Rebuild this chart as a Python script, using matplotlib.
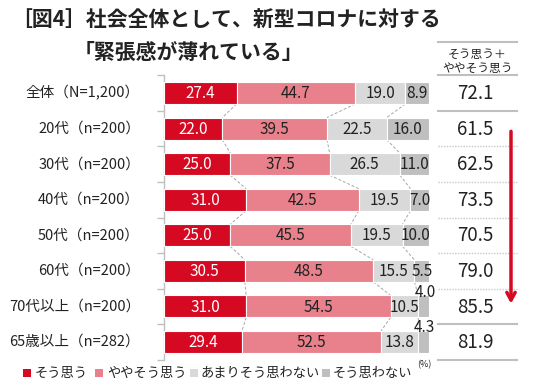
import matplotlib
matplotlib.use("Agg")
import matplotlib.pyplot as plt
import matplotlib.transforms as mtrans
import numpy as np

plt.rcParams['font.family'] = ['Noto Sans CJK JP', 'DejaVu Sans']

categories = ["全体（N=1,200）", "20代（n=200）", "30代（n=200）", "40代（n=200）",
              "50代（n=200）", "60代（n=200）", "70代以上（n=200）", "65歳以上（n=282）"]
sou_omou = [27.4, 22.0, 25.0, 31.0, 25.0, 30.5, 31.0, 29.4]
yaya_sou = [44.7, 39.5, 37.5, 42.5, 45.5, 48.5, 54.5, 52.5]
amari = [19.0, 22.5, 26.5, 19.5, 19.5, 15.5, 10.5, 13.8]
sou_omowanai = [8.9, 16.0, 11.0, 7.0, 10.0, 5.5, 4.0, 4.3]
total_agree = ["72.1", "61.5", "62.5", "73.5", "70.5", "79.0", "85.5", "81.9"]
series_names = ["そう思う", "ややそう思う", "あまりそう思わない", "そう思わない"]
colors = ["#D50A22", "#E9818C", "#D9D9D9", "#BFBFBF"]
title1 = "［図4］社会全体として、新型コロナに対する"
title2 = "「緊張感が薄れている」"
table_header = "そう思う＋\nややそう思う"

W, H = 540, 387
fig = plt.figure(figsize=(W / 100, H / 100), dpi=100)

# overlay axes in pixel coordinates
ov = fig.add_axes([0, 0, 1, 1])
ov.set_xlim(0, W)
ov.set_ylim(H, 0)
ov.axis('off')

# bar axes
top_px, bot_px = 75.2, 359.8
left_px, right_px = 164, 429
ax = fig.add_axes([left_px / W, 1 - bot_px / H, (right_px - left_px) / W, (bot_px - top_px) / H])
n = len(categories)
ax.set_xlim(0, 100)
ax.set_ylim(n - 0.5, -0.5)
ax.set_zorder(2)
ax.patch.set_alpha(0)

data = np.array([sou_omou, yaya_sou, amari, sou_omowanai])
y = np.arange(n)
bh = 0.62
left = np.zeros(n)
for k in range(4):
    ax.barh(y, data[k], left=left, height=bh, color=colors[k], edgecolor='white', linewidth=0.8, zorder=3)
    for i in range(n):
        v = data[k][i]
        cx = left[i] + v / 2
        tc = 'white' if k == 0 else '#222222'
        if v < 5:
            ax.text(cx + 0.5, i - bh / 2 - 0.09, f"{v:.1f}", ha='center', va='center',
                    fontsize=11, color=tc, zorder=5)
        else:
            ax.text(cx, i + 0.02, f"{v:.1f}", ha='center', va='center',
                    fontsize=11, color=tc, zorder=5)
    left = left + data[k]

# dashed connectors
cum = np.cumsum(data, axis=0)
for i in range(n - 1):
    for k in range(4):
        ax.plot([cum[k][i], cum[k][i + 1]], [i + bh / 2, i + 1 - bh / 2],
                color='#A6A6A6', lw=0.7, ls=(0, (3, 2)), zorder=2)

# axis styling
for s in ['top', 'right', 'bottom']:
    ax.spines[s].set_visible(False)
ax.spines['left'].set_color('#BFBFBF')
ax.spines['left'].set_linewidth(1.0)
ax.set_xticks([])
ax.set_yticks(np.arange(-0.5, n, 1.0))
ax.set_yticklabels([])
ax.tick_params(axis='y', length=5, color='#BFBFBF', width=1.0, direction='out')

# category labels
blend_y = mtrans.blended_transform_factory(ov.transData, ax.transData)
for i, c in enumerate(categories):
    ov.text(140, i, c, transform=blend_y, ha='right', va='center', fontsize=10.5, color='#222222')

# titles
ov.text(11, 20, title1, ha='left', va='center', fontsize=15, fontweight='bold', color='#222222')
ov.text(74, 52, title2, ha='left', va='center', fontsize=15, fontweight='bold', color='#222222')

# table
tx0, tx1 = 438, 517
ov.plot([tx0, tx1], [42, 42], color='#BFBFBF', lw=1.5)
ov.text((tx0 + tx1) / 2, 61, table_header, ha='center', va='center', fontsize=8.5,
        color='#222222', linespacing=1.1)
ov.plot([tx0, tx1], [-0.5, -0.5], color='#BFBFBF', lw=1.5, transform=blend_y)
for b in np.arange(0.5, n - 1, 1.0):
    if b in (0.5, 6.5):
        ov.plot([tx0, tx1], [b, b], color='#BFBFBF', lw=1.5, transform=blend_y)
    else:
        ov.plot([tx0, tx1], [b, b], color='#C8C8C8', lw=1.0, ls=(0, (1, 1)), transform=blend_y)
ov.plot([tx0, tx1], [n - 0.5, n - 0.5], color='#BFBFBF', lw=1.5, transform=blend_y)
for i, v in enumerate(total_agree):
    ov.text(475, i + 0.02, v, transform=blend_y, ha='center', va='center', fontsize=13.5, color='#222222')

# red arrow
ov.annotate('', xy=(511, 6.0), xytext=(511, 1.0), xycoords=blend_y, textcoords=blend_y,
            arrowprops=dict(arrowstyle='->,head_length=0.55,head_width=0.3', color='#D50A22', lw=2.5))

# legend
lx = [[23, 35], [95, 107], [190, 200], [322, 333]]
for k, (sx, txx) in enumerate(lx):
    ov.scatter([sx + 4], [373], marker='s', s=40, color=colors[k], linewidths=0)
    ov.text(txx, 373, series_names[k], ha='left', va='center', fontsize=9.5, color='#222222')
ov.text(424, 365, "(%)", ha='center', va='center', fontsize=6.5, color='#222222')

fig.savefig("out.png", dpi=100)
